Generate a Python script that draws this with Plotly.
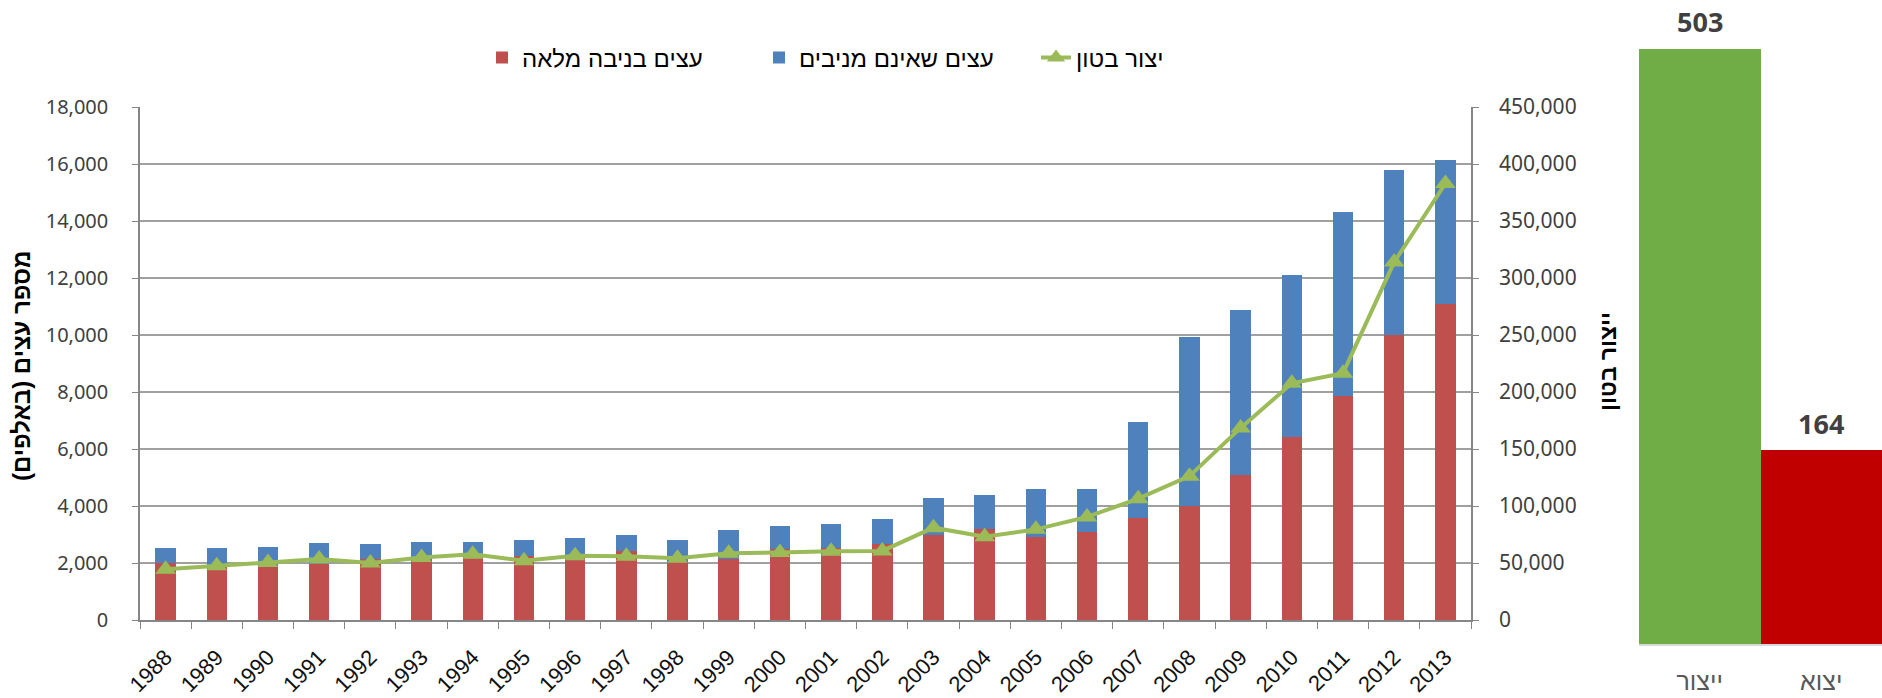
import plotly.graph_objects as go

# years on the category axis
years = [str(y) for y in range(1988, 2014)]

# trees in full yield (thousands) - red part of the stack
trees_yielding = [1990, 1900, 1900, 1950, 2150, 2100, 2250, 2250, 2200, 2420,
                  2050, 2150, 2480, 2540, 2660, 3000, 3180, 2920, 3090, 3580,
                  3990, 5090, 6420, 7850, 9990, 11080]

# trees not yet yielding (thousands) - blue part of the stack
trees_not_yielding = [520, 630, 650, 740, 520, 640, 490, 560, 670, 580,
                      770, 1000, 820, 830, 870, 1290, 1190, 1660, 1520, 3360,
                      5940, 5790, 5670, 6460, 5800, 5060]

# concrete production (right axis)
concrete = [44600, 47500, 50400, 53400, 49900, 54800, 57700, 52000, 56300, 56000,
            54200, 58600, 59200, 60400, 60600, 81000, 73000, 79500, 90400, 106400,
            126200, 168500, 207600, 216500, 314000, 382900]

# side panel
side_cats = ['ייצור', 'יצוא']
side_vals = [503, 164]
side_colors = ['#70AD47', '#C00000']

W, H = 1882, 698


def px_x(p):
    return p / W


def px_y(p):
    return 1 - p / H


fig = go.Figure()

fig.add_trace(go.Bar(
    x=years, y=trees_yielding, name='עצים בניבה מלאה',
    marker=dict(color='#C0504D', line=dict(width=0)),
))
fig.add_trace(go.Bar(
    x=years, y=trees_not_yielding, name='עצים שאינם מניבים',
    marker=dict(color='#4F81BD', line=dict(width=0)),
))
fig.add_trace(go.Scatter(
    x=years, y=concrete, name='יצור בטון', yaxis='y2',
    mode='lines+markers',
    line=dict(color='#9BBB59', width=4),
    marker=dict(symbol='triangle-up', size=18, color='#9BBB59'),
))

# side panel bars
fig.add_trace(go.Bar(
    x=side_cats, y=side_vals, xaxis='x3', yaxis='y3', width=1,
    marker=dict(color=side_colors, line=dict(width=0)),
    showlegend=False,
))
for c, v in zip(side_cats, side_vals):
    fig.add_annotation(x=c, y=v, xref='x3', yref='y3', text=str(v),
                       showarrow=False, yshift=27,
                       font=dict(family='Noto Sans', size=27, color='#404040', weight='bold'))

grid_col = '#A0A0A0'
axis_col = '#868686'

fig.update_layout(
    width=W, height=H,
    margin=dict(l=0, r=0, t=0, b=0, autoexpand=False),
    paper_bgcolor='white', plot_bgcolor='white',
    barmode='stack', bargap=0.6,
    font=dict(family='Liberation Sans', color='#000000'),
    legend=dict(orientation='h', x=px_x(482), y=px_y(58), xanchor='left', yanchor='middle',
                font=dict(family='Liberation Sans', size=24, color='#000000'),
                entrywidth=232, entrywidthmode='pixels',
                traceorder='normal'),
    xaxis=dict(
        domain=[px_x(140), px_x(1471)], anchor='y', type='category',
        range=[-0.5, len(years) - 0.5],
        tickson='boundaries', ticks='outside', ticklen=7, tickcolor=axis_col,
        showline=True, linecolor=axis_col, linewidth=1.5, showgrid=False,
        tickangle=-45, tickfont=dict(family='Liberation Sans', size=22, color='#111111'),
        ticklabelstandoff=14, automargin=False,
    ),
    yaxis=dict(
        domain=[px_y(620), px_y(107)], range=[0, 18000], dtick=2000,
        tickformat=',', showgrid=True, gridcolor=grid_col, gridwidth=1.5,
        showline=True, linecolor=axis_col, linewidth=1.5, zeroline=False,
        ticks='outside', ticklen=6, tickcolor=axis_col, ticklabelstandoff=20,
        tickfont=dict(family='Noto Sans', size=20, color='#404040'),
        automargin=False,
    ),
    yaxis2=dict(
        overlaying='y', side='right', anchor='x', range=[0, 450000], dtick=50000,
        tickformat=',', showgrid=False, zeroline=False,
        showline=True, linecolor=axis_col, linewidth=1.5,
        ticks='outside', ticklen=6, tickcolor=axis_col, ticklabelstandoff=16,
        tickfont=dict(family='Noto Sans', size=21, color='#404040'),
        automargin=False,
    ),
    xaxis3=dict(
        domain=[px_x(1639), 1.0], anchor='y3', type='category',
        showline=True, linecolor='#D9D9D9', linewidth=2, ticks='',
        tickfont=dict(family='Liberation Sans', size=25, color='#595959'),
        ticklabelstandoff=14, automargin=False,
    ),
    yaxis3=dict(
        domain=[px_y(644), px_y(49)], anchor='x3', range=[0, 503],
        visible=False, automargin=False,
    ),
)

# axis titles
fig.add_annotation(x=px_x(22), y=px_y(366), xref='paper', yref='paper',
                   xanchor='center', yanchor='middle',
                   text='מספר עצים (באלפים)\u200f', textangle=-90, showarrow=False,
                   font=dict(family='Liberation Sans', size=24, color='#000000', weight='bold'))
fig.add_annotation(x=px_x(1608), y=px_y(362), xref='paper', yref='paper',
                   xanchor='center', yanchor='middle',
                   text='ייצור בטון', textangle=-90, showarrow=False,
                   font=dict(family='Liberation Sans', size=23, color='#000000', weight='bold'))

# the page body has a default 8px margin; drop it so the figure fills the window
fig.write_html("out.html", config={'displayModeBar': False},
               post_script="document.body.style.margin = '0';")
